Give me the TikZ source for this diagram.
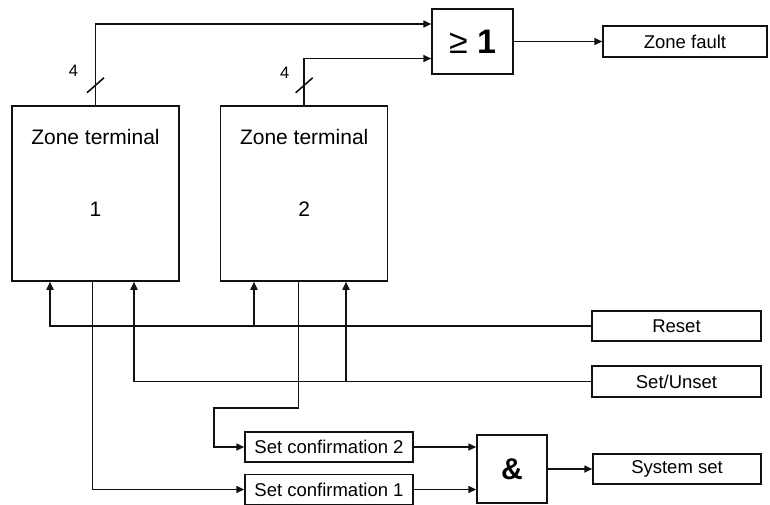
\documentclass[tikz,border=0pt]{standalone}
\usepackage{fontspec}
\setmainfont{Liberation Sans}
\usepackage{tikz}
\usetikzlibrary{arrows.meta,positioning}
\definecolor{zoneLine}{HTML}{111111}
\definecolor{zonePaper}{HTML}{FFFFFF}
\tikzset{
  box/.style={
    rectangle,
    draw=zoneLine,
    fill=zonePaper,
    line width=1.5pt,
    align=center,
    inner sep=0pt,
    font=\fontsize{18.5}{22}\selectfont,
    minimum width=168pt,
    minimum height=30pt
  },
  zterm/.style={box, font=\fontsize{21}{25}\selectfont,
    minimum width=167pt, minimum height=175pt,
    text height=46pt, text depth=0pt},
  ztname/.style={anchor=north, inner sep=0pt, yshift=-23.5pt,
    font=\fontsize{21}{25}\selectfont},
  gate/.style={box, font=\fontsize{34}{40}\selectfont},
  buslabel/.style={inner sep=0pt, font=\fontsize{16.5}{20}\selectfont},
  wire/.style={line width=1.6pt, draw=zoneLine},
  arrow/.style={-{Triangle[length=8pt,width=7pt]}, line width=1.6pt, draw=zoneLine}
}

\begin{document}
\begin{tikzpicture}[x=1pt, y=1pt, node distance=11pt]
  \useasboundingbox (0,0) rectangle (770,-504);

  \node[zterm, label={[ztname]north:Zone terminal}] (zt1) at (95.5,-193.5) {1};
  \node[zterm, label={[ztname]north:Zone terminal}] (zt2) at (304.2,-193.5) {2};
  \node[gate, minimum width=81pt, minimum height=65pt] (orgate) at (472.5,-41.5) {≥ \textbf{1}};
  \node[box, minimum width=164pt, minimum height=31pt] (zonefault) at (685,-41.5) {Zone fault};
  \node[box, minimum width=169pt] (reset) at (676.5,-326) {Reset};
  \node[box, minimum width=169pt, minimum height=31pt] (setunset) at (676.5,-381.5) {Set/Unset};
  \node[box] (setconf2) at (329,-447) {Set confirmation 2};
  \node[box, below=of setconf2] (setconf1) {Set confirmation 1};
  \node[gate, font=\bfseries\fontsize{30}{36}\selectfont, minimum width=70pt, minimum height=68pt] (andgate) at (512,-469) {\&};
  \node[box] (sysset) at (677,-469) {System set};

  % 4-wire buses to the OR gate
  \draw[arrow] (zt1.north) |- ([yshift=17.5pt]orgate.west);
  \draw[arrow] (zt2.north) |- ([yshift=-17pt]orgate.west);
  \path (zt1.north) ++(0,20) coordinate (bus1);
  \path (zt2.north) ++(0,20) coordinate (bus2);
  \draw[wire] ([shift={(-8.5,-7.5)}]bus1) -- ([shift={(8.5,7.5)}]bus1);
  \draw[wire] ([shift={(-8.5,-7.5)}]bus2) -- ([shift={(8.5,7.5)}]bus2);
  \node[buslabel] at ([shift={(-22,14)}]bus1) {4};
  \node[buslabel] at ([shift={(-19.5,12.5)}]bus2) {4};
  \draw[arrow] (orgate) -- (zonefault);

  % inputs and outputs of the terminals
  \coordinate (rs1) at ([xshift=-45.5pt]zt1.south);
  \coordinate (su1) at ([xshift=38.5pt]zt1.south);
  \coordinate (out1) at ([xshift=-3.2pt]zt1.south);
  \coordinate (rs2) at ([xshift=-50.2pt]zt2.south);
  \coordinate (su2) at ([xshift=41.8pt]zt2.south);
  \coordinate (out2) at ([xshift=-5.9pt]zt2.south);

  \draw[arrow] (reset.west) -| (rs1);
  \draw[arrow] (rs2 |- reset.west) -- (rs2);
  \draw[arrow] (setunset.west) -| (su1);
  \draw[arrow] (su2 |- setunset.west) -- (su2);
  \draw[arrow] (out1) |- (setconf1.west);
  \draw[arrow] (out2) -- ++(0,-126.5) -| ([xshift=-30pt]setconf2.west) -- (setconf2.west);

  \draw[arrow] (setconf2.east) -- (setconf2 -| andgate.west);
  \draw[arrow] (setconf1.east) -- (setconf1 -| andgate.west);
  \draw[arrow] (andgate) -- (sysset);
\end{tikzpicture}
\end{document}
